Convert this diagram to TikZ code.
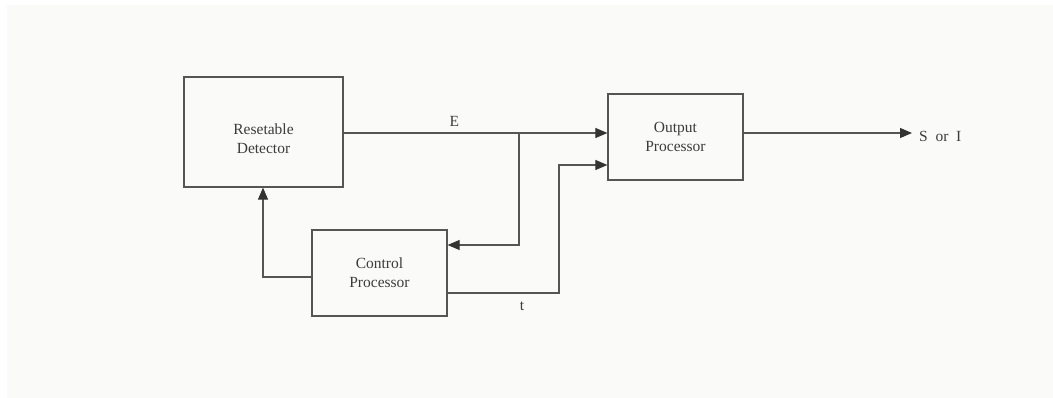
\documentclass[tikz,border=0pt]{standalone}
\usepackage{fontspec}
\setmainfont{Liberation Serif}
\usepackage{xcolor}
\usetikzlibrary{positioning,calc,arrows.meta}

\definecolor{linegray}{HTML}{555555}
\definecolor{tipgray}{HTML}{333333}
\definecolor{textgray}{HTML}{3C3C3C}
\definecolor{paper}{HTML}{FAFAF8}

\tikzset{
  block/.style={draw=linegray, line width=1.2pt, minimum width=#1, align=center,
    text=textgray, font=\fontsize{15.5}{19}\selectfont, inner sep=0pt},
  wire/.style={draw=linegray, line width=1.1pt},
  arr/.style={wire, -{Triangle[length=12pt,width=10pt,color=tipgray]}},
  lbl/.style={text=textgray, font=\fontsize{15.5}{19}\selectfont, inner sep=0pt}
}

\begin{document}
\begin{tikzpicture}[x=1pt, y=-1pt]
  % page and paper
  \useasboundingbox (0,0) rectangle (1053,398);
  \fill[paper] (7,5) rectangle (1053,398);

  % Blocks
  \node[block=159pt, minimum height=110pt] (det) at (263.5,132) {};
  \node[lbl, align=center] (detlbl) at ($(det.center)+(0,7)$) {Resetable\\Detector};
  \node[block=135pt, minimum height=86pt] (outp) at (675.5,137) {Output\\Processor};
  \node[block=135pt, minimum height=86pt] (ctrl) at (379.5,273) {Control\\Processor};

  % Junction points
  \coordinate (jE) at (519,133);
  \coordinate (jt) at (559,293);
  \coordinate (sout) at (912,133);

  % E from detector to output processor, branch to control
  \draw[arr] (det.east |- jE) -- node[lbl, above=6pt, pos=0.42] (lblE) {E} (outp.west |- jE);
  \draw[arr] (jE) -- (jE |- 0,245) -- (ctrl.east |- 0,245);

  % t from control processor to output processor
  \draw[arr] (ctrl.east |- jt) -- (jt) -- (jt |- 0,165) -- (outp.west |- 0,165);
  \node[lbl, anchor=base] (lblt) at (522,311) {t};

  % Reset feedback
  \draw[arr] (ctrl.west |- 0,277) -- (263,277) -- (263,0 |- det.south);

  % Output
  \draw[arr] (outp.east |- sout) -- (sout);
  \node[lbl, anchor=base west] (res) at (919,142) {S\enspace or\enspace I};
\end{tikzpicture}
\end{document}
